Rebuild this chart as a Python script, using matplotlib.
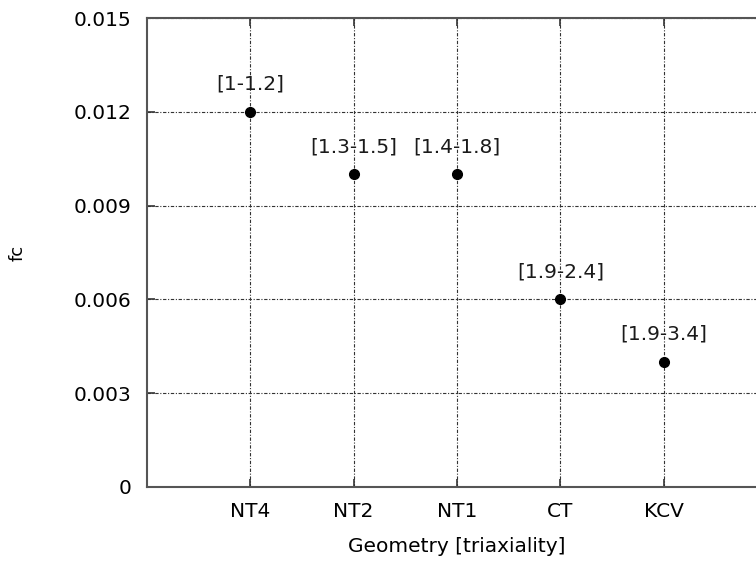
import matplotlib.pyplot as plt

geometries = ['NT4', 'NT2', 'NT1', 'CT', 'KCV']
fc_values = [0.012, 0.010, 0.010, 0.006, 0.004]
triax_ranges = ['[1-1.2]', '[1.3-1.5]', '[1.4-1.8]', '[1.9-2.4]', '[1.9-3.4]']
yticks = [0, 0.003, 0.006, 0.009, 0.012, 0.015]
ytick_labels = ['0', '0.003', '0.006', '0.009', '0.012', '0.015']

plt.rcParams['font.family'] = 'DejaVu Sans'
fs = 14.5

fig = plt.figure(figsize=(7.56, 5.62), dpi=100)
# axes run past the right edge of the picture, like the reference
ax = fig.add_axes([147 / 756, 75 / 562, 620 / 756, 469 / 562])

xpos = list(range(1, len(geometries) + 1))
ax.plot(xpos, fc_values, 'o', color='black', markersize=7, zorder=3)

for x, y, lab in zip(xpos, fc_values, triax_ranges):
    ax.annotate(lab, xy=(x, y), xytext=(0, 20), textcoords='offset points',
                ha='center', va='center', fontsize=fs, color='#1a1a1a')

ax.set_xlim(0, 6)
ax.set_ylim(0, 0.015)
ax.set_xticks(xpos)
ax.set_xticklabels(geometries, fontsize=fs)
ax.set_yticks(yticks)
ax.set_yticklabels(ytick_labels, fontsize=fs)

ax.grid(True, color='#333333', linestyle=(0, (3, 1.5, 1, 1.5)), linewidth=0.8)
ax.tick_params(direction='in', length=6, width=1.2, top=True, right=True,
               color='#333333', pad=11)
ax.tick_params(axis='x', pad=11)
for s in ax.spines.values():
    s.set_color('#555555')
    s.set_linewidth(1.5)

ax.set_xlabel('Geometry [triaxiality]', fontsize=fs, labelpad=11)
ax.set_ylabel('fc', fontsize=13)
ax.yaxis.set_label_coords(-0.194, 0.5)

fig.savefig('out.png', dpi=100)
